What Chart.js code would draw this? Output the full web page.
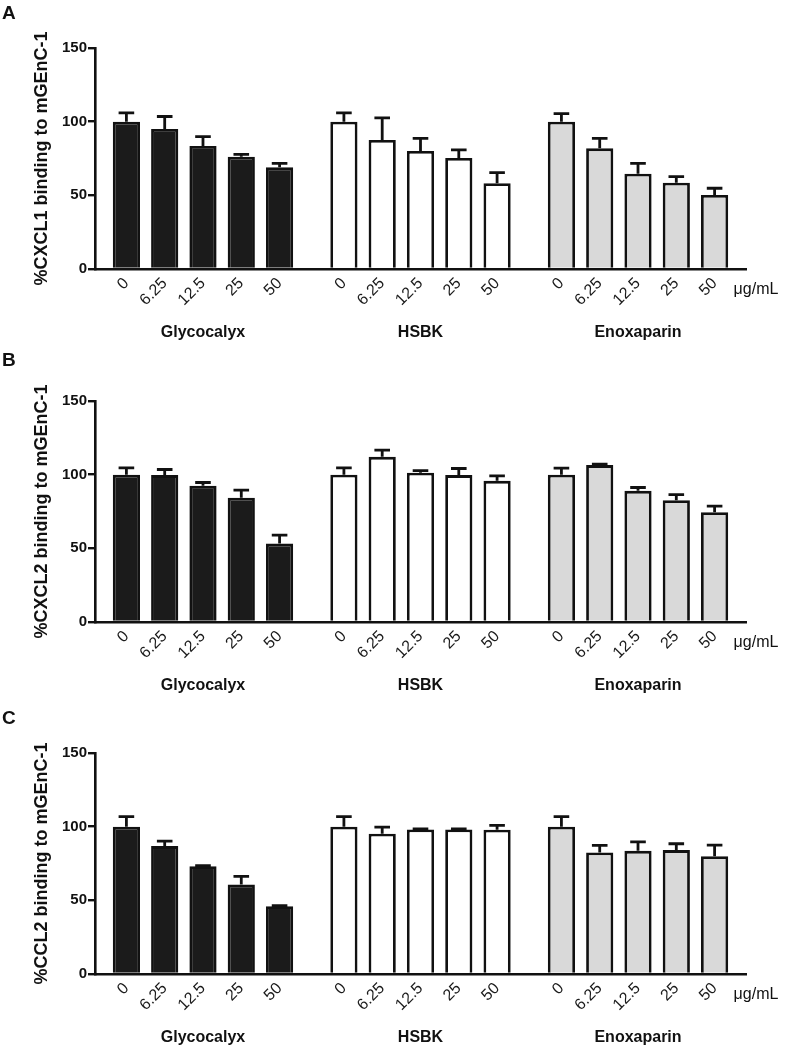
<!DOCTYPE html>
<html><head><meta charset="utf-8">
<script src="https://cdn.jsdelivr.net/npm/chart.js@4/dist/chart.umd.min.js"></script>
<style>
html,body{margin:0;padding:0;background:#fff;overflow:hidden;}
#wrap{position:relative;width:785px;height:1049px;overflow:hidden;background:#fff;}
canvas{position:absolute;left:0;}
</style></head><body>
<div id="wrap">
<canvas id="cA" width="785" height="352" style="top:0px"></canvas>
<canvas id="cB" width="785" height="352" style="top:353px"></canvas>
<canvas id="cC" width="785" height="352" style="top:705px"></canvas>
</div>
<script>
// ---- data ----
const doses = ['0', '6.25', '12.5', '25', '50'];
const groups = ['Glycocalyx', 'HSBK', 'Enoxaparin'];
const unitLabel = 'μg/mL';
const yTicks = [0, 50, 100, 150];

const cxcl1Glycocalyx = [100, 95, 83.5, 76.2, 69];
const cxcl1GlycocalyxSem = [6, 8.5, 6.3, 1.6, 2.7];
const cxcl1HSBK = [100, 87.6, 80.1, 75.3, 58.2];
const cxcl1HSBKSem = [6, 15, 8.6, 5.5, 7.2];
const cxcl1Enoxaparin = [100, 81.9, 64.7, 58.6, 50.2];
const cxcl1EnoxaparinSem = [5.5, 6.8, 7, 4.1, 4.6];

const cxcl2Glycocalyx = [100, 99.7, 92.4, 84.3, 53.2];
const cxcl2GlycocalyxSem = [4.6, 3.8, 2.3, 5.2, 5.7];
const cxcl2HSBK = [100, 112.1, 101.3, 99.7, 95.8];
const cxcl2HSBKSem = [4.6, 4.6, 1.4, 4.5, 3.4];
const cxcl2Enoxaparin = [100, 106.5, 89, 82.7, 74.5];
const cxcl2EnoxaparinSem = [4.5, 0.7, 2.3, 3.8, 4.1];

const ccl2Glycocalyx = [100, 86.8, 73.2, 60.7, 46];
const ccl2GlycocalyxSem = [6.8, 3.4, 0.4, 5.5, 0.4];
const ccl2HSBK = [100, 95.2, 98.1, 98.1, 97.9];
const ccl2HSBKSem = [6.8, 4.5, 0.4, 0.4, 3];
const ccl2Enoxaparin = [100, 82.5, 83.6, 84.1, 80];
const ccl2EnoxaparinSem = [6.8, 4.8, 6.1, 4.3, 7.5];

// ---- layout / style ----
const GROUP_STRIDE = 5.68;
const groupFill = ['#1b1b1b', '#ffffff', '#d9d9d9'];
const INK = '#111111';
const FONT = '"Liberation Sans", Arial, sans-serif';

const xPos = groups.flatMap((g, gi) => doses.map((d, i) => gi * GROUP_STRIDE + i));

const errorBars = {
  id: 'errorBars',
  afterDatasetsDraw(chart, args, opts) {
    const {ctx} = chart;
    const y = chart.scales.y;
    const meta = chart.getDatasetMeta(0);
    ctx.save();
    ctx.strokeStyle = INK;
    ctx.lineWidth = 2.8;
    ctx.lineCap = 'butt';
    meta.data.forEach((bar, i) => {
      const v = chart.data.datasets[0].data[i].y;
      const e = opts.sems[i];
      const yTop = y.getPixelForValue(v + e);
      const yBase = y.getPixelForValue(v);
      const half = 7.8;
      ctx.beginPath();
      ctx.moveTo(bar.x, yBase);
      ctx.lineTo(bar.x, yTop);
      ctx.moveTo(bar.x - half, yTop);
      ctx.lineTo(bar.x + half, yTop);
      ctx.stroke();
    });
    ctx.restore();
  }
};

const panelText = {
  id: 'panelText',
  afterDraw(chart, args, opts) {
    const {ctx} = chart;
    const x = chart.scales.x, y = chart.scales.y;
    ctx.save();
    ctx.fillStyle = INK;
    ctx.font = 'bold 19px ' + FONT;
    ctx.textAlign = 'left';
    ctx.textBaseline = 'middle';
    ctx.fillText(opts.letter, 2, opts.letterY);
    ctx.font = 'bold 16px ' + FONT;
    ctx.textAlign = 'center';
    groups.forEach((g, gi) => {
      ctx.fillText(g, x.getPixelForValue(gi * GROUP_STRIDE + 2), y.bottom + 64);
    });
    ctx.font = '16px ' + FONT;
    ctx.textAlign = 'left';
    ctx.fillText(unitLabel, x.getPixelForValue(xPos[xPos.length - 1]) + 19, y.bottom + 21);
    ctx.restore();
  }
};

function makePanel(id, letter, letterY, title, means, sems) {
  const values = means.flat();
  const data = xPos.map((x, i) => ({x: x, y: values[i]}));
  const fills = groups.flatMap((g, gi) => doses.map(() => groupFill[gi]));
  new Chart(document.getElementById(id), {
    type: 'bar',
    data: {
      datasets: [{
        data: data,
        backgroundColor: fills,
        borderColor: INK,
        borderWidth: 2.8,
        borderSkipped: 'start',
        barPercentage: 0.71,
        categoryPercentage: 1
      }]
    },
    plugins: [errorBars, panelText],
    options: {
      responsive: false,
      animation: false,
      layout: {padding: {top: 48, right: 39, left: 0, bottom: 0}},
      plugins: {
        legend: {display: false},
        tooltip: {enabled: false},
        errorBars: {sems: sems.flat()},
        panelText: {letter: letter, letterY: letterY}
      },
      scales: {
        x: {
          type: 'linear',
          min: -0.82,
          max: xPos[xPos.length - 1] + 0.82,
          offset: false,
          grid: {display: false, drawTicks: false},
          border: {display: true, color: INK, width: 2.6},
          afterBuildTicks: s => { s.ticks = xPos.map(v => ({value: v})); },
          afterFit: s => { s.height = 83; },
          ticks: {
            autoSkip: false,
            minRotation: 45,
            maxRotation: 45,
            padding: 5,
            color: '#1a1a1a',
            font: {family: FONT, size: 16},
            callback: (v, i) => doses[i % doses.length]
          }
        },
        y: {
          min: 0,
          max: 150,
          afterBuildTicks: s => { s.ticks = yTicks.map(v => ({value: v})); },
          afterFit: s => { s.width = 95; },
          grid: {drawOnChartArea: false, drawTicks: true, tickLength: 7, color: INK, lineWidth: 2.4},
          border: {display: true, color: INK, width: 2.6},
          ticks: {
            padding: 1,
            color: INK,
            font: {family: FONT, size: 15, weight: 'bold'}
          },
          title: {
            display: true,
            text: title,
            color: INK,
            font: {family: FONT, size: 18, weight: 'bold'},
            padding: {top: 31, bottom: 0}
          }
        }
      }
    }
  });
}

makePanel('cA', 'A', 13.5, '%CXCL1 binding to mGEnC-1',
  [cxcl1Glycocalyx, cxcl1HSBK, cxcl1Enoxaparin],
  [cxcl1GlycocalyxSem, cxcl1HSBKSem, cxcl1EnoxaparinSem]);
makePanel('cB', 'B', 7.5, '%CXCL2 binding to mGEnC-1',
  [cxcl2Glycocalyx, cxcl2HSBK, cxcl2Enoxaparin],
  [cxcl2GlycocalyxSem, cxcl2HSBKSem, cxcl2EnoxaparinSem]);
makePanel('cC', 'C', 13.5, '%CCL2 binding to mGEnC-1',
  [ccl2Glycocalyx, ccl2HSBK, ccl2Enoxaparin],
  [ccl2GlycocalyxSem, ccl2HSBKSem, ccl2EnoxaparinSem]);
</script>
</body></html>
